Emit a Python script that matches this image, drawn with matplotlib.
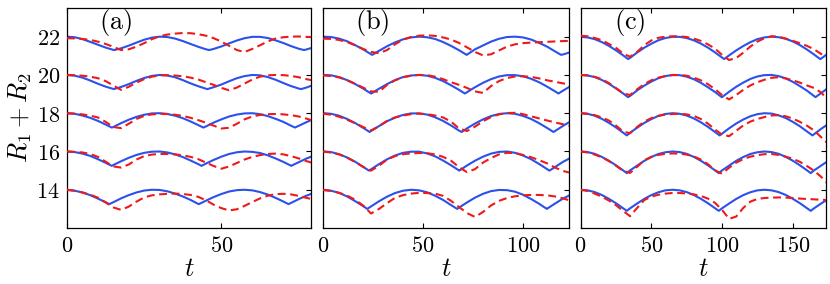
import numpy as np
import matplotlib
matplotlib.use("Agg")
import matplotlib.pyplot as plt
from matplotlib.ticker import FuncFormatter

plt.rcParams["mathtext.fontset"] = "cm"
plt.rcParams["font.family"] = "serif"

# curves are shifted by these offsets (bottom to top)
offsets = [14, 16, 18, 20, 22]

# ---------------- panel (a) ----------------
t_a = np.arange(0, 80.1, 2.5)
blue_a_14 = [0.00, -0.05, -0.14, -0.28, -0.46, -0.65, -0.65, -0.45, -0.28, -0.14, -0.04, 0.00, -0.01,
             -0.08, -0.20, -0.35, -0.53, -0.74, -0.57, -0.38, -0.22, -0.09, -0.02, 0.00, -0.03,
             -0.12, -0.25, -0.42, -0.61, -0.69, -0.49, -0.31, -0.16]
blue_a_16 = [0.00, -0.03, -0.11, -0.23, -0.40, -0.59, -0.71, -0.51, -0.33, -0.18, -0.07, -0.01, 0.00,
             -0.05, -0.15, -0.29, -0.47, -0.66, -0.63, -0.44, -0.27, -0.13, -0.04, 0.00, -0.02,
             -0.08, -0.20, -0.36, -0.54, -0.74, -0.56, -0.37, -0.21]
blue_a_18 = [0.00, -0.03, -0.12, -0.24, -0.40, -0.59, -0.72, -0.52, -0.34, -0.19, -0.08, -0.01, 0.00,
             -0.04, -0.13, -0.26, -0.43, -0.62, -0.69, -0.49, -0.32, -0.17, -0.07, -0.01, 0.00,
             -0.05, -0.15, -0.29, -0.45, -0.65, -0.66, -0.47, -0.29]
blue_a_20 = [0.00, -0.04, -0.14, -0.29, -0.46, -0.61, -0.73, -0.63, -0.48, -0.31, -0.16, -0.05, 0.00,
             -0.03, -0.12, -0.27, -0.44, -0.59, -0.72, -0.64, -0.50, -0.33, -0.17, -0.06, 0.00,
             -0.02, -0.11, -0.25, -0.42, -0.58, -0.71, -0.66, -0.51]
blue_a_22 = [0.00, -0.03, -0.13, -0.27, -0.42, -0.57, -0.69, -0.61, -0.47, -0.31, -0.16, -0.05, 0.00,
             -0.02, -0.10, -0.23, -0.38, -0.53, -0.66, -0.64, -0.51, -0.35, -0.20, -0.08, -0.01,
             -0.01, -0.07, -0.19, -0.33, -0.49, -0.63, -0.67, -0.55]
red_a_14 = [0.00, -0.05, -0.14, -0.26, -0.41, -0.66, -0.92, -1.05, -0.88, -0.62, -0.40, -0.29, -0.24,
            -0.21, -0.20, -0.22, -0.27, -0.37, -0.55, -0.78, -0.96, -1.08, -1.02, -0.84, -0.64,
            -0.45, -0.31, -0.23, -0.21, -0.24, -0.32, -0.42, -0.52]
red_a_16 = [0.00, -0.02, -0.05, -0.13, -0.28, -0.53, -0.78, -0.84, -0.68, -0.42, -0.24, -0.16, -0.13,
            -0.13, -0.15, -0.20, -0.28, -0.40, -0.58, -0.76, -0.90, -0.78, -0.60, -0.42, -0.28,
            -0.19, -0.13, -0.11, -0.15, -0.24, -0.36, -0.50, -0.62]
red_a_18 = [0.00, -0.02, -0.06, -0.13, -0.22, -0.45, -0.72, -0.78, -0.55, -0.30, -0.14, -0.06, -0.03,
            -0.04, -0.08, -0.14, -0.24, -0.36, -0.50, -0.65, -0.80, -0.76, -0.55, -0.32, -0.17,
            -0.09, -0.05, -0.04, -0.06, -0.10, -0.17, -0.28, -0.42]
red_a_20 = [0.00, -0.01, -0.04, -0.09, -0.17, -0.32, -0.55, -0.78, -0.62, -0.40, -0.22, -0.09, -0.02,
            -0.01, -0.03, -0.07, -0.14, -0.24, -0.38, -0.52, -0.68, -0.80, -0.66, -0.45, -0.24,
            -0.09, -0.02, 0.00, -0.01, -0.05, -0.12, -0.22, -0.30]
red_a_22 = [-0.08, -0.09, -0.12, -0.17, -0.26, -0.38, -0.53, -0.70, -0.66, -0.52, -0.34, -0.13, 0.02,
            0.11, 0.16, 0.19, 0.18, 0.13, 0.05, -0.08, -0.26, -0.48, -0.70, -0.80, -0.64,
            -0.45, -0.25, -0.10, -0.03, 0.00, 0.01, -0.01, -0.03]
# blue minima (time of minimum, depth)
bmin_t_a = [[13.7, 42.7, 71.7], [14.5, 43.55, 72.6], [14.5, 44.15, 73.8],
            [15.15, 45.45, 75.75], [15.35, 46.05, 76.75]]
bmin_d_a = [0.75, 0.75, 0.75, 0.74, 0.70]

# ---------------- panel (b) ----------------
t_b = np.arange(0, 124.1, 4)
blue_b_14 = [0.00, -0.05, -0.16, -0.35, -0.59, -0.85, -0.87, -0.60, -0.36, -0.17, -0.05, 0.00, -0.03,
             -0.13, -0.31, -0.53, -0.80, -0.93, -0.66, -0.41, -0.21, -0.07, -0.01, -0.02,
             -0.10, -0.26, -0.48, -0.73, -0.99, -0.72, -0.46, -0.25]
blue_b_16 = [0.00, -0.03, -0.14, -0.31, -0.53, -0.80, -0.93, -0.66, -0.41, -0.21, -0.07, -0.01, -0.01,
             -0.10, -0.25, -0.47, -0.72, -0.99, -0.73, -0.48, -0.27, -0.11, -0.02, 0.00,
             -0.07, -0.21, -0.40, -0.65, -0.92, -0.81, -0.54, -0.32]
blue_b_18 = [0.00, -0.03, -0.13, -0.30, -0.51, -0.76, -0.93, -0.67, -0.42, -0.23, -0.09, -0.01, -0.01,
             -0.07, -0.21, -0.40, -0.64, -0.91, -0.79, -0.54, -0.32, -0.15, -0.04, 0.00,
             -0.03, -0.14, -0.30, -0.52, -0.77, -0.93, -0.66, -0.41]
blue_b_20 = [0.00, -0.02, -0.11, -0.27, -0.47, -0.71, -0.97, -0.72, -0.48, -0.27, -0.11, -0.03, 0.00,
             -0.04, -0.15, -0.32, -0.54, -0.78, -0.90, -0.64, -0.41, -0.22, -0.08, -0.01,
             -0.01, -0.07, -0.20, -0.38, -0.61, -0.86, -0.82, -0.57]
blue_b_22 = [0.00, -0.02, -0.10, -0.24, -0.44, -0.66, -0.92, -0.74, -0.50, -0.30, -0.14, -0.04, 0.00,
             -0.03, -0.12, -0.28, -0.48, -0.71, -0.94, -0.66, -0.46, -0.26, -0.11, -0.02,
             0.00, -0.04, -0.15, -0.32, -0.52, -0.77, -0.93, -0.80]
red_b_14 = [-0.01, -0.06, -0.16, -0.30, -0.52, -0.82, -1.24, -1.00, -0.70, -0.42, -0.28, -0.20, -0.16,
            -0.17, -0.20, -0.32, -0.58, -0.90, -1.22, -1.42, -1.16, -0.82, -0.58, -0.43,
            -0.34, -0.29, -0.27, -0.27, -0.29, -0.35, -0.45, -0.58]
red_b_16 = [0.00, -0.06, -0.15, -0.32, -0.55, -0.80, -1.00, -0.74, -0.42, -0.24, -0.14, -0.10, -0.08,
            -0.09, -0.15, -0.28, -0.48, -0.82, -1.08, -0.92, -0.58, -0.34, -0.15, -0.07,
            -0.08, -0.18, -0.30, -0.45, -0.62, -0.84, -1.02, -1.12]
red_b_18 = [-0.02, -0.08, -0.18, -0.34, -0.52, -0.72, -0.90, -0.68, -0.40, -0.22, -0.12, -0.05, -0.02,
            -0.05, -0.12, -0.22, -0.44, -0.80, -0.93, -0.70, -0.42, -0.20, -0.06, 0.01,
            0.02, -0.05, -0.16, -0.27, -0.38, -0.48, -0.58, -0.68]
red_b_20 = [-0.02, -0.06, -0.13, -0.27, -0.46, -0.66, -0.86, -0.88, -0.52, -0.28, -0.12, -0.04, 0.00,
            -0.01, -0.09, -0.22, -0.38, -0.52, -0.68, -0.86, -0.94, -0.58, -0.32, -0.16,
            -0.08, -0.07, -0.10, -0.18, -0.28, -0.36, -0.44, -0.52]
red_b_22 = [-0.10, -0.12, -0.17, -0.28, -0.45, -0.64, -0.80, -0.86, -0.70, -0.40, -0.15, -0.02, 0.05,
            0.07, 0.04, -0.04, -0.15, -0.33, -0.56, -0.80, -0.98, -0.92, -0.72, -0.52,
            -0.40, -0.34, -0.31, -0.29, -0.27, -0.25, -0.23, -0.22]
bmin_t_b = [[22.1, 67.1, 111.9], [23.0, 68.1, 113.2], [23.3, 69.3, 115.2],
            [24.1, 70.9, 117.7], [24.6, 71.8, 119.0]]
bmin_d_b = [1.00, 1.00, 0.98, 0.97, 0.95]

# ---------------- panel (c) ----------------
t_c = np.arange(0, 175.1, 5)
blue_c_14 = [0.00, -0.03, -0.12, -0.27, -0.47, -0.70, -0.96, -0.97, -0.72, -0.48, -0.28, -0.13,
             -0.03, 0.00, -0.03, -0.12, -0.27, -0.47, -0.70, -0.96, -0.97, -0.72, -0.48, -0.28,
             -0.13, -0.03, 0.00, -0.03, -0.12, -0.27, -0.47, -0.70, -0.96, -0.97, -0.72, -0.48]
blue_c_16 = [0.00, -0.03, -0.12, -0.28, -0.48, -0.72, -0.98, -0.99, -0.74, -0.49, -0.29, -0.13,
             -0.04, 0.00, -0.03, -0.12, -0.28, -0.48, -0.72, -0.98, -0.99, -0.74, -0.49, -0.29,
             -0.13, -0.04, 0.00, -0.03, -0.12, -0.28, -0.48, -0.72, -0.98, -0.99, -0.74, -0.49]
blue_c_18 = [0.00, -0.03, -0.13, -0.29, -0.50, -0.74, -1.01, -1.02, -0.76, -0.51, -0.31, -0.14,
             -0.04, 0.00, -0.03, -0.12, -0.27, -0.47, -0.71, -0.98, -1.07, -0.79, -0.54, -0.33,
             -0.16, -0.05, 0.00, -0.02, -0.11, -0.25, -0.45, -0.68, -0.95, -1.10, -0.82, -0.57]
blue_c_20 = [0.00, -0.03, -0.11, -0.26, -0.46, -0.70, -0.96, -1.10, -0.81, -0.56, -0.35, -0.17,
             -0.06, 0.00, -0.01, -0.09, -0.22, -0.41, -0.64, -0.89, -1.16, -0.88, -0.62, -0.40,
             -0.21, -0.08, -0.01, 0.00, -0.06, -0.18, -0.36, -0.58, -0.82, -1.10, -0.95, -0.68]
blue_c_22 = [0.00, -0.04, -0.13, -0.28, -0.48, -0.71, -0.97, -1.11, -0.83, -0.58, -0.37, -0.19,
             -0.07, -0.01, -0.01, -0.07, -0.19, -0.36, -0.57, -0.82, -1.09, -0.98, -0.72, -0.49,
             -0.29, -0.13, -0.04, 0.00, -0.03, -0.11, -0.25, -0.44, -0.67, -0.93, -1.15, -0.87]
red_c_14 = [0.00, -0.06, -0.20, -0.36, -0.56, -0.80, -1.10, -1.38, -0.95, -0.54, -0.36, -0.26,
            -0.20, -0.17, -0.17, -0.19, -0.24, -0.32, -0.46, -0.68, -1.05, -1.52, -1.40, -0.95,
            -0.62, -0.48, -0.43, -0.41, -0.40, -0.41, -0.43, -0.46, -0.48, -0.50, -0.52, -0.54]
red_c_16 = [0.00, -0.05, -0.16, -0.30, -0.50, -0.74, -1.00, -1.12, -0.80, -0.46, -0.28, -0.18,
            -0.12, -0.10, -0.11, -0.16, -0.26, -0.42, -0.66, -0.98, -1.16, -0.85, -0.58, -0.40,
            -0.27, -0.19, -0.14, -0.13, -0.18, -0.27, -0.38, -0.54, -0.76, -1.00, -1.32, -1.70]
red_c_18 = [0.00, -0.03, -0.10, -0.22, -0.38, -0.64, -0.95, -1.05, -0.72, -0.44, -0.26, -0.14,
            -0.07, -0.04, -0.03, -0.06, -0.14, -0.30, -0.54, -0.85, -1.12, -1.20, -0.92, -0.64,
            -0.44, -0.30, -0.20, -0.12, -0.10, -0.16, -0.28, -0.45, -0.65, -0.90, -1.25, -1.60]
red_c_20 = [0.00, -0.02, -0.10, -0.22, -0.42, -0.68, -0.96, -1.05, -0.75, -0.48, -0.28, -0.14,
            -0.06, -0.01, 0.00, -0.04, -0.14, -0.28, -0.48, -0.74, -1.05, -1.28, -1.05, -0.78,
            -0.55, -0.38, -0.25, -0.15, -0.12, -0.18, -0.28, -0.40, -0.55, -0.68, -0.92, -1.30]
red_c_22 = [0.05, 0.02, -0.07, -0.18, -0.38, -0.58, -0.88, -1.05, -0.80, -0.45, -0.20, -0.06,
            0.00, 0.02, 0.02, -0.02, -0.10, -0.22, -0.40, -0.62, -0.95, -1.22, -1.12, -0.84,
            -0.52, -0.26, -0.08, 0.02, 0.00, -0.10, -0.22, -0.34, -0.48, -0.66, -0.90, -1.10]
bmin_t_c = [[32.7, 97.7, 162.7], [32.7, 97.7, 162.7], [32.7, 98.3, 163.9],
            [33.6, 99.8, 166.1], [33.65, 101.5, 169.4]]
bmin_d_c = [1.10, 1.13, 1.16, 1.16, 1.17]

panels = [
    ("(a)", t_a, [blue_a_14, blue_a_16, blue_a_18, blue_a_20, blue_a_22],
     [red_a_14, red_a_16, red_a_18, red_a_20, red_a_22], bmin_t_a, bmin_d_a, 79.0, [0, 50]),
    ("(b)", t_b, [blue_b_14, blue_b_16, blue_b_18, blue_b_20, blue_b_22],
     [red_b_14, red_b_16, red_b_18, red_b_20, red_b_22], bmin_t_b, bmin_d_b, 123.0, [0, 50, 100]),
    ("(c)", t_c, [blue_c_14, blue_c_16, blue_c_18, blue_c_20, blue_c_22],
     [red_c_14, red_c_16, red_c_18, red_c_20, red_c_22], bmin_t_c, bmin_d_c, 173.5, [0, 50, 100, 150]),
]

BLUE = "#2b50ec"
RED = "#ee1a1a"

fig = plt.figure(figsize=(8.30, 2.84), dpi=100)
lefts = [0.0807, 0.3892, 0.6994]
widths = [0.2940, 0.2964, 0.2958]
fmt = FuncFormatter(lambda v, p: f"${v:g}$")

for i, (lab, t, blues, reds, tmins, depths, tmax, xt) in enumerate(panels):
    ax = fig.add_axes([lefts[i], 0.197, widths[i], 0.775])
    for off, b, r, tm, d in zip(offsets, blues, reds, tmins, depths):
        # add the read-off minima of the blue curve to its samples
        tb = np.concatenate([t, tm])
        yb = np.concatenate([b, [-d] * len(tm)])
        order = np.argsort(tb)
        ax.plot(tb[order], off + yb[order], color=BLUE, lw=1.5, zorder=2)
        ax.plot(t, off + np.array(r), color=RED, lw=1.5, ls=(0, (3.8, 2.2)), zorder=3)
    ax.set_xlim(0, tmax)
    ax.set_ylim(12, 23.5)
    ax.set_xticks(xt)
    ax.set_yticks(offsets)
    ax.xaxis.set_major_formatter(fmt)
    ax.yaxis.set_major_formatter(fmt)
    ax.tick_params(direction="in", top=True, right=True, length=3.5, width=0.8,
                   labelsize=16, pad=5)
    if i > 0:
        ax.tick_params(labelleft=False)
    for s in ax.spines.values():
        s.set_linewidth(0.9)
    ax.set_xlabel(r"$t$", fontsize=19, labelpad=-1)
    ax.text(0.2, 0.935, r"$\mathrm{" + lab + "}$", transform=ax.transAxes,
            ha="center", va="center", fontsize=19)
    if i == 0:
        ax.set_ylabel(r"$R_1+R_2$", fontsize=19, labelpad=2)

fig.savefig("out.png", dpi=100)
